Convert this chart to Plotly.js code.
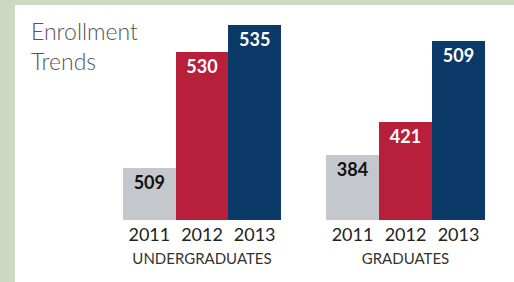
<!DOCTYPE html>
<html>
<head>
<meta charset="utf-8">
<script src="https://cdn.plot.ly/plotly-3.0.1.min.js"></script>
<style>
  html, body { margin: 0; padding: 0; }
  body { width: 514px; height: 282px; background: #cfd8c1; position: relative; overflow: hidden; }
  #panel { position: absolute; left: 15px; top: 5px; width: 499px; height: 277px; background: #ffffff; }
  #chart { position: absolute; left: 0; top: 0; width: 514px; height: 282px; }
</style>
</head>
<body>
<div id="panel"></div>
<div id="chart"></div>
<script>
const years = ['2011', '2012', '2013'];
const undergraduates = [509, 530, 535];
const graduates = [384, 421, 509];
const groupNames = ['UNDERGRADUATES', 'GRADUATES'];
const barColors = ['#c4c8cc', '#b81f3a', '#0b3a69'];
const labelColors = ['#111111', '#ffffff', '#ffffff'];

const W = 514, H = 282;
const px = v => v / W;
const py = v => (H - v) / H;

const FONT = 'Lato, "Noto Sans", sans-serif';

function barTrace(values, xa, ya) {
  return {
    type: 'bar',
    x: years,
    y: values,
    xaxis: xa,
    yaxis: ya,
    marker: { color: barColors, line: { width: 0 } },
    text: values.map(String),
    textposition: 'inside',
    insidetextanchor: 'end',
    textangle: 0,
    constraintext: 'none',
    cliponaxis: true,
    textfont: { family: FONT, size: 18, color: labelColors, weight: 'bold' },
    hoverinfo: 'none'
  };
}

const data = [
  barTrace(undergraduates, 'x', 'y'),
  barTrace(graduates, 'x2', 'y2')
];

function xaxis(domain, title) {
  return {
    domain: domain,
    type: 'category',
    showgrid: false, zeroline: false, showline: false, ticks: '',
    tickfont: { family: FONT, size: 18, color: '#222222' },
    ticklabelstandoff: 2,
    title: { text: title, font: { family: FONT, size: 15, color: '#333333' }, standoff: 9 },
    fixedrange: true
  };
}
function yaxis(range, anchor) {
  return {
    domain: [py(220), py(25)],
    range: range,
    anchor: anchor,
    showgrid: false, zeroline: false, showline: false, showticklabels: false, ticks: '',
    fixedrange: true
  };
}

const layout = {
  width: W, height: H,
  margin: { l: 0, r: 0, t: 0, b: 0 },
  paper_bgcolor: 'rgba(0,0,0,0)',
  plot_bgcolor: 'rgba(0,0,0,0)',
  showlegend: false,
  bargap: 0,
  title: {
    text: 'Enrollment<br>Trends',
    font: { family: FONT, size: 23, color: '#555555', weight: 300 },
    x: px(31), xanchor: 'left', xref: 'container',
    y: 1 - 40 / H, yanchor: 'top', yref: 'container'
  },
  xaxis: xaxis([px(123), px(281)], groupNames[0]),
  yaxis: yaxis([499.5, 535], 'x'),
  xaxis2: Object.assign(xaxis([px(326), px(485)], groupNames[1]), { anchor: 'y2' }),
  yaxis2: yaxis([313, 527], 'x2')
};
layout.xaxis.anchor = 'y';

Plotly.newPlot('chart', data, layout, { displayModeBar: false, staticPlot: true });
</script>
</body>
</html>
